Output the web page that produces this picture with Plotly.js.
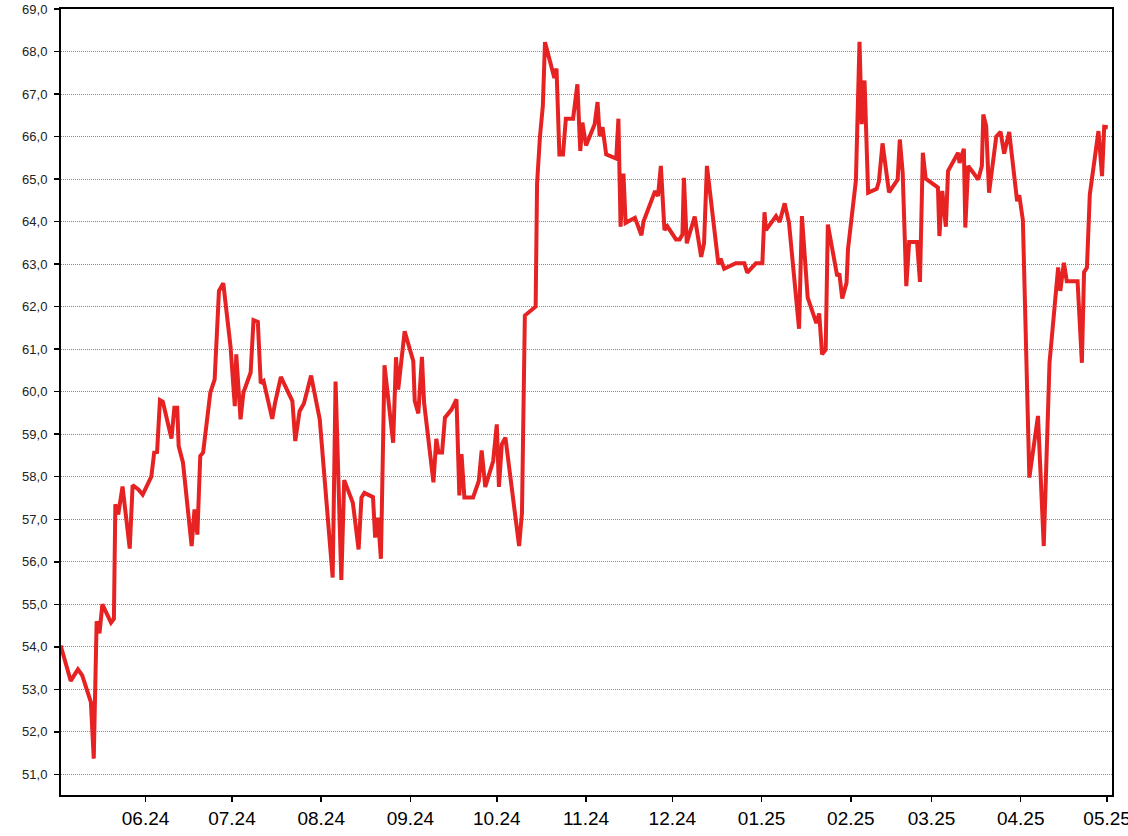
<!DOCTYPE html>
<html>
<head>
<meta charset="utf-8">
<script src="https://cdn.plot.ly/plotly-3.0.1.min.js"></script>
<style>html,body{margin:0;padding:0;background:#fff;}#chart{width:1128px;height:836px;}</style>
</head>
<body>
<div id="chart"></div>
<script>
const dates = [
"2024-05-02 12:00","2024-05-06","2024-05-08 12:00","2024-05-10","2024-05-13","2024-05-14","2024-05-15","2024-05-16","2024-05-17","2024-05-20",
"2024-05-21","2024-05-21 12:00","2024-05-22 12:00","2024-05-24","2024-05-26 12:00","2024-05-27 12:00","2024-05-29 12:00","2024-05-31","2024-06-03","2024-06-04",
"2024-06-05","2024-06-06","2024-06-07","2024-06-10","2024-06-11","2024-06-12","2024-06-12 12:00","2024-06-14","2024-06-17","2024-06-18",
"2024-06-19","2024-06-20","2024-06-21","2024-06-23 12:00","2024-06-25","2024-06-26 12:00","2024-06-28","2024-06-30 12:00","2024-07-02","2024-07-02 12:00",
"2024-07-04","2024-07-05","2024-07-07 12:00","2024-07-08 12:00","2024-07-10","2024-07-11","2024-07-12","2024-07-15","2024-07-16","2024-07-18",
"2024-07-22","2024-07-23","2024-07-24 12:00","2024-07-26","2024-07-28 12:00","2024-07-31 12:00","2024-08-05","2024-08-06","2024-08-08","2024-08-09",
"2024-08-12","2024-08-14","2024-08-15","2024-08-16","2024-08-19","2024-08-19 18:00","2024-08-20 18:00","2024-08-21 18:00","2024-08-23","2024-08-26",
"2024-08-27","2024-08-27 18:00","2024-08-30","2024-09-02","2024-09-02 12:00","2024-09-03 18:00","2024-09-05","2024-09-05 18:00","2024-09-09","2024-09-10",
"2024-09-10 18:00","2024-09-12","2024-09-13","2024-09-15 06:00","2024-09-17","2024-09-18","2024-09-18 18:00","2024-09-19 18:00","2024-09-22 18:00","2024-09-24 18:00",
"2024-09-25 18:00","2024-09-27","2024-09-29 18:00","2024-10-01","2024-10-01 18:00","2024-10-02 18:00","2024-10-04","2024-10-08 18:00","2024-10-09 18:00","2024-10-10 18:00",
"2024-10-14 12:00","2024-10-15","2024-10-16","2024-10-17","2024-10-17 18:00","2024-10-21","2024-10-21 18:00","2024-10-22 18:00","2024-10-24","2024-10-25",
"2024-10-27 12:00","2024-10-29","2024-10-30","2024-10-30 18:00","2024-11-01","2024-11-04","2024-11-05","2024-11-05 18:00","2024-11-06 18:00","2024-11-08",
"2024-11-11 12:00","2024-11-12 06:00","2024-11-13","2024-11-14","2024-11-14 18:00","2024-11-18","2024-11-20 06:00","2024-11-21","2024-11-25","2024-11-26",
"2024-11-27","2024-11-28 06:00","2024-11-29 06:00","2024-12-02 06:00","2024-12-03 12:00","2024-12-04 12:00","2024-12-05","2024-12-06","2024-12-08 18:00","2024-12-11",
"2024-12-12","2024-12-13","2024-12-17","2024-12-17 18:00","2024-12-19","2024-12-23","2024-12-26","2024-12-27","2024-12-30","2025-01-01 06:00",
"2025-01-02","2025-01-02 12:00","2025-01-06","2025-01-07 06:00","2025-01-09","2025-01-10 12:00","2025-01-14","2025-01-15","2025-01-17","2025-01-20",
"2025-01-21","2025-01-22","2025-01-23 06:00","2025-01-24","2025-01-27 06:00","2025-01-28","2025-01-29","2025-01-30 12:00","2025-01-31","2025-02-02 18:00",
"2025-02-04","2025-02-04 18:00","2025-02-05 18:00","2025-02-06 06:00","2025-02-07","2025-02-10","2025-02-10 18:00","2025-02-12","2025-02-14 06:00","2025-02-17 06:00",
"2025-02-18","2025-02-19","2025-02-20 06:00","2025-02-21 06:00","2025-02-24","2025-02-25","2025-02-26","2025-02-27","2025-03-03 06:00","2025-03-03 18:00",
"2025-03-04 18:00","2025-03-06","2025-03-06 18:00","2025-03-10 06:00","2025-03-10 18:00","2025-03-12 06:00","2025-03-12 18:00","2025-03-13 18:00","2025-03-17 06:00","2025-03-18 12:00",
"2025-03-19","2025-03-20","2025-03-21","2025-03-23 12:00","2025-03-25","2025-03-26 06:00","2025-03-28","2025-03-30 18:00","2025-03-31 12:00","2025-04-01 18:00",
"2025-04-04","2025-04-07","2025-04-09","2025-04-11","2025-04-14","2025-04-14 18:00","2025-04-16","2025-04-17","2025-04-20 18:00","2025-04-22 06:00",
"2025-04-23","2025-04-24","2025-04-25","2025-04-28","2025-04-29 06:00","2025-04-30","2025-05-01 06:00"
];
const values = [
54.03,53.2,53.47,53.33,52.7,51.37,54.6,54.32,55.0,54.57,
54.66,57.35,57.11,57.77,56.31,57.8,57.7,57.58,58.0,58.57,
58.58,59.8,59.76,58.9,59.62,59.62,58.72,58.33,56.37,57.23,
56.64,58.49,58.57,59.98,60.29,62.37,62.55,61.07,59.66,60.88,
59.35,59.98,60.45,61.68,61.64,60.2,60.25,59.36,59.74,60.35,
59.78,58.84,59.54,59.72,60.38,59.35,55.63,60.24,55.57,57.92,
57.39,56.29,57.51,57.62,57.52,56.57,57.04,56.07,60.62,58.8,
60.81,60.05,61.42,60.72,59.78,59.49,60.82,59.74,57.87,58.89,
58.57,58.57,59.39,59.58,59.82,57.56,58.53,57.51,57.51,57.9,
58.62,57.76,58.37,59.23,57.76,58.76,58.92,56.37,57.15,61.79,
62.0,64.9,66.0,66.72,68.22,67.38,67.6,65.58,65.58,66.42,
66.42,67.23,65.66,66.33,65.79,66.29,66.81,66.01,66.22,65.58,
65.48,66.42,63.88,65.13,63.97,64.09,63.68,64.01,64.72,64.6,
65.31,63.8,63.89,63.58,63.58,63.7,65.03,63.49,64.12,63.17,
63.49,65.31,62.99,63.13,62.89,63.02,63.02,62.8,63.02,63.02,
64.22,63.8,64.13,63.99,64.43,63.97,61.48,64.13,62.21,61.61,
61.84,60.88,60.99,63.93,62.72,62.78,62.19,62.56,63.35,64.97,
68.23,66.29,67.32,66.29,64.68,64.77,64.95,65.84,64.69,64.99,
65.93,65.15,62.48,63.52,63.52,62.58,65.62,65.01,64.8,63.66,
64.72,63.88,65.19,65.62,65.38,65.71,63.86,65.31,64.99,65.31,
66.52,66.25,64.68,66.0,66.11,65.6,66.11,64.48,64.62,64.03,
57.98,59.43,56.37,60.68,62.92,62.37,63.03,62.6,62.6,60.68,
62.81,62.92,64.64,66.13,65.07,66.23,66.22
];
const xRange = ["2024-05-02 15:00", "2025-05-02 17:00"];
const yRange = [50.515, 69];

const trace = {
  x: dates, y: values, type: "scatter", mode: "lines",
  line: {color: "#e62222", width: 4, shape: "linear"},
  hoverinfo: "skip", cliponaxis: true
};
const layout = {
  width: 1128, height: 836,
  margin: {l: 61, r: 16, t: 9, b: 41, pad: 0},
  paper_bgcolor: "#fff", plot_bgcolor: "#fff",
  separators: ",.",
  showlegend: false,
  font: {family: "Liberation Sans, Arial, sans-serif", color: "#000"},
  xaxis: {
    type: "date", range: xRange, autorange: false,
    tickformat: "%m.%y", dtick: "M1", tick0: "2024-06-01",
    ticks: "outside", ticklen: 5, tickwidth: 1.5, tickcolor: "#000",
    showgrid: false, zeroline: false,
    showline: true, linecolor: "#000", linewidth: 2, mirror: true,
    tickfont: {size: 19, color: "#000"}, automargin: false,
    ticklabeloverflow: "allow"
  },
  yaxis: {
    range: yRange, autorange: false, tick0: 51, dtick: 1, tickformat: ".1f",
    ticks: "outside", ticklen: 5, tickwidth: 1.5, tickcolor: "#000",
    showgrid: true, gridcolor: "#8a8a8a", gridwidth: 1, griddash: "1px,1px",
    zeroline: false,
    showline: true, linecolor: "#000", linewidth: 2, mirror: true,
    tickfont: {size: 13, color: "#222"}, ticklabelstandoff: 4, automargin: false,
    ticklabeloverflow: "allow"
  }
};
Plotly.newPlot("chart", [trace], layout, {staticPlot: true, displayModeBar: false});
</script>
</body>
</html>
